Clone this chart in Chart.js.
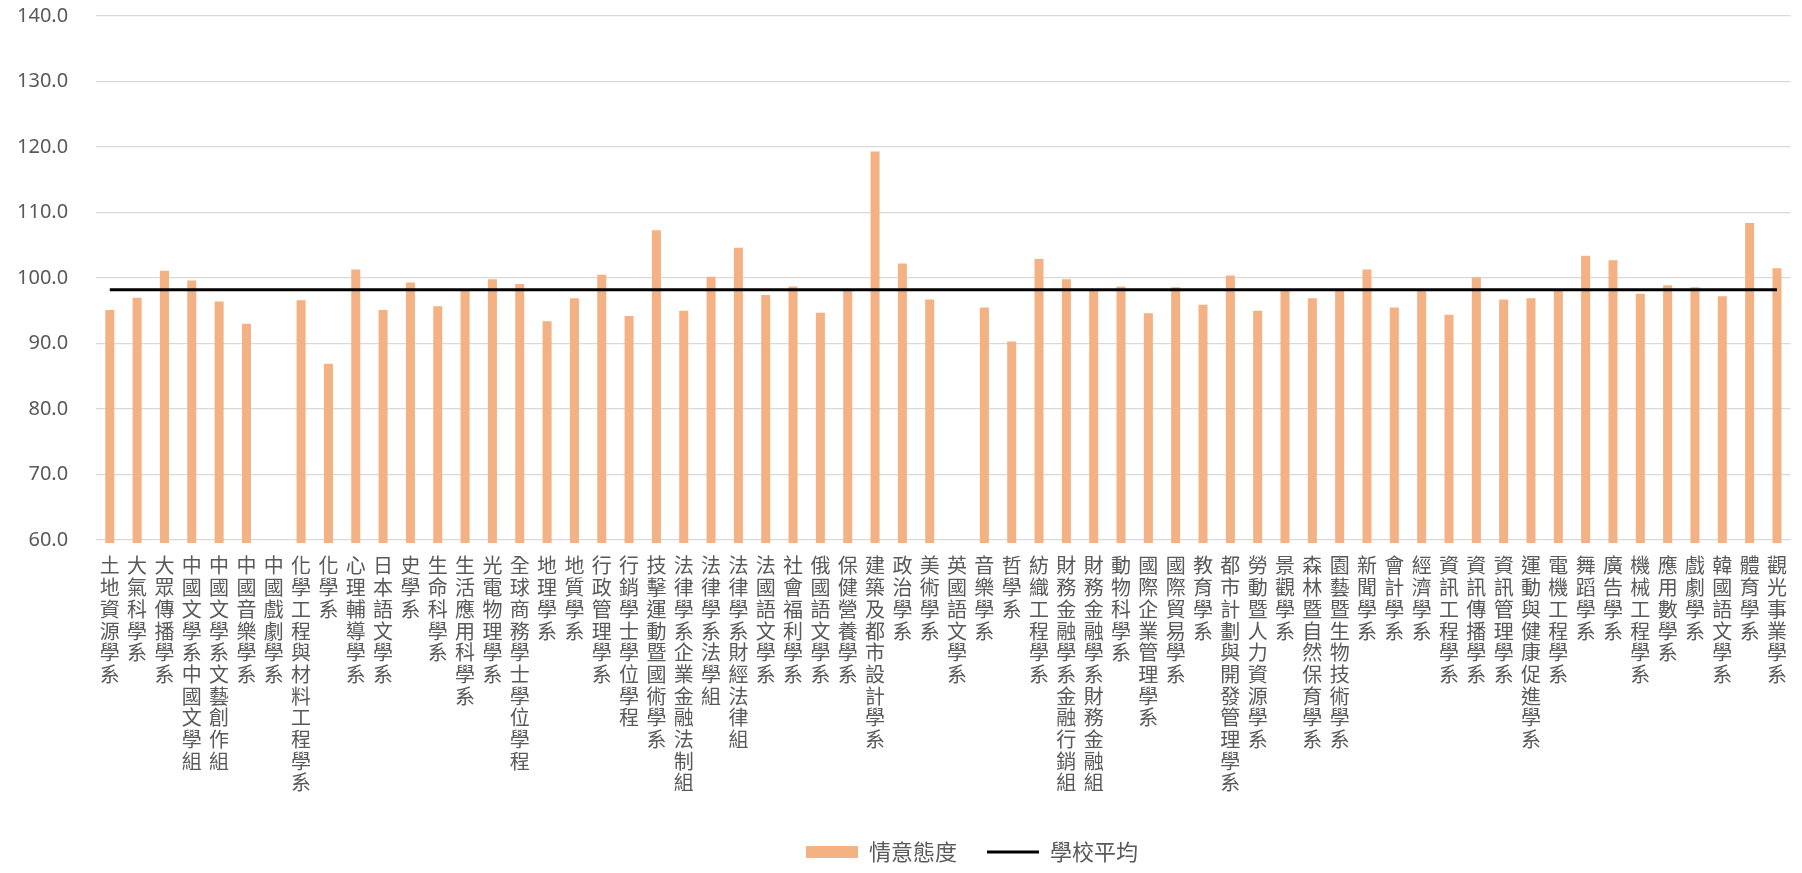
<!DOCTYPE html>
<html>
<head>
<meta charset="utf-8">
<script src="https://cdn.jsdelivr.net/npm/chart.js@4/dist/chart.umd.min.js"></script>
<style>
  html, body { margin: 0; padding: 0; background: #fff; }
  #wrap { width: 1802px; height: 873px; position: relative; }
</style>
</head>
<body>
<div id="wrap"><canvas id="myChart"></canvas></div>
<script>
// 系所名稱
const departments = [
    '土地資源學系', '大氣科學系', '大眾傳播學系', '中國文學系中國文學組', '中國文學系文藝創作組',
    '中國音樂學系', '中國戲劇學系', '化學工程與材料工程學系', '化學系', '心理輔導學系',
    '日本語文學系', '史學系', '生命科學系', '生活應用科學系', '光電物理學系',
    '全球商務學士學位學程', '地理學系', '地質學系', '行政管理學系', '行銷學士學位學程',
    '技擊運動暨國術學系', '法律學系企業金融法制組', '法律學系法學組', '法律學系財經法律組', '法國語文學系',
    '社會福利學系', '俄國語文學系', '保健營養學系', '建築及都市設計學系', '政治學系',
    '美術學系', '英國語文學系', '音樂學系', '哲學系', '紡織工程學系',
    '財務金融學系金融行銷組', '財務金融學系財務金融組', '動物科學系', '國際企業管理學系', '國際貿易學系',
    '教育學系', '都市計劃與開發管理學系', '勞動暨人力資源學系', '景觀學系', '森林暨自然保育學系',
    '園藝暨生物技術學系', '新聞學系', '會計學系', '經濟學系', '資訊工程學系',
    '資訊傳播學系', '資訊管理學系', '運動與健康促進學系', '電機工程學系', '舞蹈學系',
    '廣告學系', '機械工程學系', '應用數學系', '戲劇學系', '韓國語文學系',
    '體育學系', '觀光事業學系'
];

// 情意態度 (0 = 沒有資料, 只在軸下露出一點)
const scores = [
    95.1, 97.0, 101.1, 99.6, 96.4,
    93.0, 0, 96.6, 86.9, 101.3,
    95.1, 99.3, 95.7, 98.1, 99.8,
    99.1, 93.4, 96.9, 100.5, 94.2,
    107.3, 95.0, 100.2, 104.6, 97.4,
    98.7, 94.7, 98.1, 119.3, 102.2,
    96.7, 0, 95.5, 90.3, 102.9,
    99.8, 98.1, 98.7, 94.6, 98.6,
    95.9, 100.4, 95.0, 98.1, 96.9,
    98.1, 101.3, 95.5, 98.1, 94.4,
    100.1, 96.7, 96.9, 98.1, 103.4,
    102.7, 97.6, 98.9, 98.6, 97.2,
    108.4, 101.5
];

// 學校平均
const schoolAverage = 98.2;

// y 軸刻度
const yTickValues = [60, 70, 80, 90, 100, 110, 120, 130, 140];

const textColor = '#595959';
const gridColor = '#d9d9d9';

// 圖例往右移一點, 跟原圖一樣
const legendShift = {
    id: 'legendShift',
    afterLayout: function (chart) {
        const lg = chart.legend;
        if (!lg) return;
        const dx = 972 - (lg.left + lg.right) / 2;
        lg.left += dx;
        lg.right += dx;
    }
};

Chart.defaults.font.family = "'Noto Sans CJK TC', 'Noto Sans', sans-serif";
Chart.defaults.color = textColor;

document.addEventListener('DOMContentLoaded', function () {
    var ctx = document.getElementById('myChart').getContext('2d');
    var myChart = new Chart(ctx, {
        type: 'bar',
        data: {
            labels: departments,
            datasets: [{
                type: 'bar',
                label: '情意態度',
                data: scores,
                backgroundColor: '#F4B183',
                borderWidth: 0,
                barPercentage: 0.33,
                categoryPercentage: 1.0,
                pointStyle: 'rect',
                clip: { left: 0, right: 0, top: 0, bottom: 3 },
                order: 0
            }, {
                type: 'line',
                label: '學校平均',
                data: departments.map(function () { return schoolAverage; }),
                borderColor: '#000000',
                backgroundColor: '#000000',
                borderWidth: 3,
                pointRadius: 0,
                pointStyle: 'line',
                order: -1
            }]
        },
        options: {
            responsive: true,
            maintainAspectRatio: false,
            animation: false,
            layout: {
                padding: { left: 13, right: 4, top: 16, bottom: 0 }
            },
            plugins: {
                tooltip: { enabled: false },
                legend: {
                    position: 'bottom',
                    labels: {
                        usePointStyle: true,
                        pointStyleWidth: 52,
                        boxHeight: 12,
                        padding: 30,
                        color: textColor,
                        font: { size: 22 },
                        sort: function (a, b) { return a.datasetIndex - b.datasetIndex; }
                    }
                }
            },
            scales: {
                x: {
                    grid: { display: false, drawTicks: false },
                    border: { display: false },
                    ticks: {
                        autoSkip: false,
                        maxRotation: 0,
                        minRotation: 0,
                        padding: 15,
                        color: textColor,
                        font: { size: 20, lineHeight: 1.085 },
                        callback: function (value, index) {
                            return Array.from(departments[index]);
                        }
                    },
                    afterFit: function (scale) {
                        scale.height = 271;
                    }
                },
                y: {
                    min: yTickValues[0],
                    max: yTickValues[yTickValues.length - 1],
                    afterBuildTicks: function (axis) {
                        axis.ticks = yTickValues.map(function (v) { return { value: v }; });
                    },
                    grid: {
                        color: gridColor,
                        lineWidth: 1.3,
                        drawTicks: true,
                        tickLength: 24,
                        tickColor: 'rgba(0,0,0,0)'
                    },
                    border: { display: false },
                    ticks: {
                        padding: 4,
                        color: textColor,
                        font: { family: "'Noto Sans', sans-serif", size: 20 },
                        callback: function (value) { return Number(value).toFixed(1); }
                    }
                }
            }
        },
        plugins: [legendShift]
    });
});
</script>
</body>
</html>
